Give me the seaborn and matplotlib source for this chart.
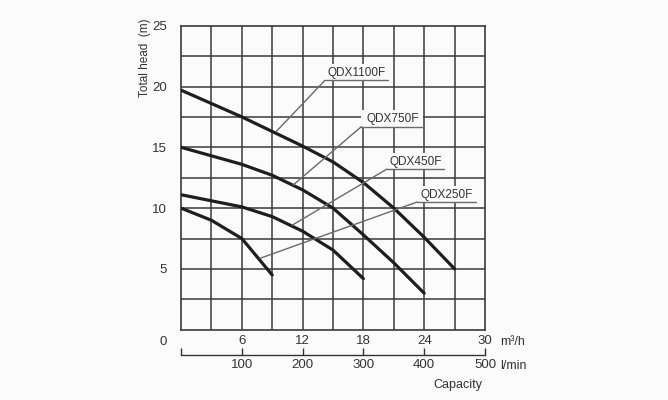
import matplotlib
matplotlib.use("Agg")
import matplotlib.pyplot as plt
import seaborn as sns
import pandas as pd

# ---- data ----
flow_1100 = [0, 3, 6, 9, 12, 15, 18, 21, 24, 27]
head_1100 = [19.7, 18.6, 17.5, 16.3, 15.1, 13.8, 12.1, 10.0, 7.6, 5.0]
flow_750 = [0, 3, 6, 9, 12, 15, 18, 21, 24]
head_750 = [15.0, 14.3, 13.6, 12.7, 11.5, 10.0, 7.8, 5.5, 3.0]
flow_450 = [0, 3, 6, 9, 12, 15, 18]
head_450 = [11.1, 10.6, 10.1, 9.3, 8.1, 6.55, 4.2]
flow_250 = [0, 3, 6, 9]
head_250 = [10.0, 9.0, 7.5, 4.5]
models = ["QDX1100F", "QDX750F", "QDX450F", "QDX250F"]

x_ticks_m3h = [6, 12, 18, 24, 30]
x_ticks_lmin = ["", "100", "200", "300", "400", "500"]
y_ticks = [5, 10, 15, 20, 25]

rows = []
for name, xs, ys in zip(models, [flow_1100, flow_750, flow_450, flow_250],
                        [head_1100, head_750, head_450, head_250]):
    for i, (x, y) in enumerate(zip(xs, ys)):
        rows.append({"model": name, "flow": x, "head": y, "order": i})
df = pd.DataFrame(rows)

sns.set_theme(style="white")
plt.rcParams["font.family"] = ["Liberation Sans", "DejaVu Sans"]

W, H = 668, 400
fig = plt.figure(figsize=(W / 100, H / 100), dpi=100)
bg = "#fbfbfb"
fig.patch.set_facecolor(bg)
L, R, T, B = 181, 485, 25.7, 329.7
ax = fig.add_axes([L / W, 1 - B / H, (R - L) / W, (B - T) / H])
ax.set_facecolor(bg)

grid_c = "#3a3a3a"
txt_c = "#333333"
for gx in range(3, 30, 3):
    ax.axvline(gx, color=grid_c, lw=1.1, zorder=1)
for k in range(1, 10):
    ax.axhline(k * 2.5, color=grid_c, lw=1.1, zorder=1)
for s in ax.spines.values():
    s.set_color(grid_c)
    s.set_linewidth(1.2)

sns.lineplot(data=df, x="flow", y="head", hue="model", units="model",
             estimator=None, sort=False, palette=["#1e1e1e"] * 4,
             linewidth=2.3, legend=False, ax=ax, zorder=3)

ax.set_xlim(0, 30)
ax.set_ylim(0, 25)
ax.set_xlabel("")
ax.set_ylabel("")
ax.set_xticks(x_ticks_m3h)
ax.set_yticks(y_ticks)
ax.tick_params(axis="both", length=0, labelsize=9.5, colors=txt_c)
ax.tick_params(axis="x", pad=4)
ax.tick_params(axis="y", pad=10)

# origin label
fig.text(163.5 / W, 1 - 342 / H, "0", ha="center", va="center", fontsize=9.5, color=txt_c)
# m3/h unit
fig.text(500 / W, 1 - 342 / H, "m³/h", ha="left", va="center", fontsize=9, color=txt_c)

# secondary axis l/min
sec = ax.secondary_xaxis(-0.0832, functions=(lambda x: x * 100 / 6, lambda x: x * 6 / 100))
sec.set_xticks([0, 100, 200, 300, 400, 500])
sec.set_xticklabels(x_ticks_lmin)
sec.tick_params(axis="x", direction="in", length=5, width=1, colors=txt_c,
                labelsize=9.5, pad=3)
sec.spines["bottom"].set_color(txt_c)
sec.spines["bottom"].set_linewidth(1)
fig.text(500 / W, 1 - 366 / H, "l/min", ha="left", va="center", fontsize=9, color=txt_c)
fig.text(457.5 / W, 1 - 385 / H, "Capacity", ha="center", va="center", fontsize=9, color=txt_c)

fig.text(145 / W, 1 - 58 / H, "Total head  (m)", rotation=90, ha="center", va="center",
         fontsize=8.5, color=txt_c)

# leader lines with labels (data coords)
lead_c = "#6a6a6a"
labels = [
    ("QDX1100F", 14.2, 20.4, 20.5, (9.4, 16.3)),
    ("QDX750F", 17.8, 23.9, 16.7, (11.07, 11.9)),
    ("QDX450F", 20.3, 26.0, 13.2, (10.98, 8.6)),
    ("QDX250F", 23.3, 29.1, 10.5, (7.8, 5.87)),
]
for name, x0, x1, yu, (ex, ey) in labels:
    ax.fill_between([x0, x1], yu, yu + 1.35, color=bg, zorder=4, lw=0)
    ax.plot([x0, x1], [yu, yu], color=lead_c, lw=1.0, zorder=5)
    ax.plot([x0, ex], [yu, ey], color=lead_c, lw=1.0, zorder=5)
    ax.text((x0 + x1) / 2, yu + 0.6, name, ha="center", va="center", fontsize=8.5,
            color=txt_c, zorder=6)

fig.savefig("out.png", dpi=100, facecolor=bg)
